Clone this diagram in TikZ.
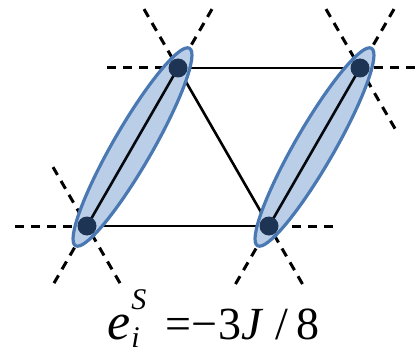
\documentclass[tikz,border=0pt]{standalone}
\usepackage{fontspec}
\setmainfont{Liberation Serif}
\usetikzlibrary{shapes.geometric,calc}
\definecolor{dimerfill}{RGB}{186,206,232}
\definecolor{dimerline}{RGB}{74,120,178}
\definecolor{sitecol}{RGB}{30,52,84}
\tikzset{
  lat/.style={line width=2.6pt, black},
  stub/.style={line width=3pt, black, dash pattern=on 9pt off 7pt},
  dimer/.style={ellipse, draw=dimerline, fill=dimerfill, line width=3.2pt, minimum width=228pt, minimum height=39pt, inner sep=0pt},
  bond/.style={line width=2.6pt, black!85!sitecol},
  site/.style={circle, fill=sitecol, minimum size=19pt, inner sep=0pt}
}
\newcommand{\myscriptsz}{\fontsize{30}{32}\selectfont\itshape}
\begin{document}
\begin{tikzpicture}[x=1pt,y=1pt]
\useasboundingbox (0,0) rectangle (415,354);
\coordinate (A) at (178,286);
\coordinate (B) at (360,286);
\coordinate (C) at (87,128);
\coordinate (D) at (269,128);
% dashed stubs
\coordinate (a1) at ($(A)+(180:71)$);
\coordinate (a2) at ($(A)+(120:68)$);
\coordinate (a3) at ($(A)+(60:68)$);
\coordinate (b1) at ($(B)+(0:55)$);
\coordinate (b2) at ($(B)+(120:68)$);
\coordinate (b3) at ($(B)+(60:68)$);
\coordinate (b4) at ($(B)+(-60:70)$);
\coordinate (c1) at ($(C)+(180:72)$);
\coordinate (c2) at ($(C)+(120:68)$);
\coordinate (c3) at ($(C)+(-120:66)$);
\coordinate (c4) at ($(C)+(-60:66)$);
\coordinate (d1) at ($(D)+(0:64)$);
\coordinate (d2) at ($(D)+(-120:67)$);
\coordinate (d3) at ($(D)+(-60:67)$);
\foreach \p/\q in {a1/A,a2/A,a3/A,b1/B,b2/B,b3/B,b4/B,c1/C,c2/C,c3/C,c4/C,d1/D,d2/D,d3/D}
  \draw[stub] (\p) -- (\q);
% lattice bonds
\draw[lat] (A) -- (B);
\draw[lat] (C) -- (D);
\draw[lat] (A) -- (D);
% dimers
\node[dimer, rotate=60] (e1) at ($(A)!0.5!(C)$) {};
\node[dimer, rotate=60] (e2) at ($(B)!0.5!(D)$) {};
\draw[bond] (A) -- (C);
\draw[bond] (B) -- (D);
\node[site] (sA) at (A) {};
\node[site] (sB) at (B) {};
\node[site] (sC) at (C) {};
\node[site] (sD) at (D) {};
% label
\node[anchor=base west, inner sep=0pt] (lab) at (107,15) {\fontsize{52}{54}\selectfont\textit{e}\kern1pt\rlap{\raisebox{30pt}{\myscriptsz S}}\raisebox{-8pt}{\myscriptsz i}\kern26pt\fontsize{46}{48}\selectfont=\kern0pt−\kern1pt3\textit{J}\kern12pt/\kern8pt8};
\end{tikzpicture}
\end{document}
